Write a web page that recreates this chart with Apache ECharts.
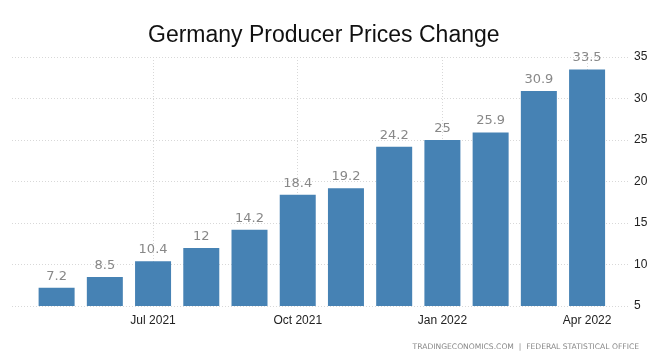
<!DOCTYPE html>
<html><head><meta charset="utf-8">
<script src="https://cdn.jsdelivr.net/npm/echarts@6/dist/echarts.min.js"></script>
<style>html,body{margin:0;padding:0;background:#fff}#c{width:660px;height:364px}</style>
</head><body><div id="c"></div>
<script>
var categories = ['May 2021','Jun 2021','Jul 2021','Aug 2021','Sep 2021','Oct 2021','Nov 2021','Dec 2021','Jan 2022','Feb 2022','Mar 2022','Apr 2022'];
var values = [7.2, 8.5, 10.4, 12, 14.2, 18.4, 19.2, 24.2, 25, 25.9, 30.9, 33.5];
var tickLabels = ['Jul 2021','Oct 2021','Jan 2022','Apr 2022'];
var yTicks = [5, 10, 15, 20, 25, 30, 35];

var tickIdx = tickLabels.map(function(t){ return categories.indexOf(t); });
var seriesData = values.map(function(v, i){ return [i, v]; });
var sans = '"Liberation Sans", Arial, sans-serif';

var chart = echarts.init(document.getElementById('c'));
chart.setOption({
  animation: false,
  title: {
    text: 'Germany Producer Prices Change',
    left: 143, top: 19,
    textStyle: { fontFamily: sans, fontSize: 23, fontWeight: 'normal', color: '#111' }
  },
  graphic: [{
    type: 'text', right: 21, top: 343,
    style: { text: 'TRADINGECONOMICS.COM  |  FEDERAL STATISTICAL OFFICE', fill: '#888', font: '7.6px "DejaVu Sans", sans-serif' }
  }],
  grid: { left: 12, right: 30, top: 57, bottom: 58 },
  xAxis: {
    type: 'value', min: -0.925, max: 11.89,
    axisLine: { show: false },
    axisTick: { show: false, customValues: tickIdx },
    axisLabel: {
      customValues: tickIdx, color: '#222', fontSize: 12, margin: 9,
      fontFamily: sans,
      formatter: function(v){ return categories[Math.round(v)]; }
    },
    splitLine: { show: true, lineStyle: { color: '#d8d8d8', type: [1, 2], width: 1 } }
  },
  yAxis: {
    type: 'value', position: 'right', min: yTicks[0], max: yTicks[yTicks.length - 1], interval: 5,
    axisLine: { show: false }, axisTick: { show: false },
    axisLabel: { color: '#222', fontSize: 12, margin: 4, fontFamily: sans },
    splitLine: { lineStyle: { color: '#d8d8d8', type: [1, 2], width: 1 } }
  },
  series: [{
    type: 'bar', data: seriesData, barWidth: 36,
    itemStyle: { color: '#4682b4' },
    label: { show: true, position: 'top', distance: 5, color: '#888', fontSize: 13,
      fontFamily: '"DejaVu Sans", sans-serif',
      formatter: function(p){ return String(p.value[1]); } }
  }]
});
</script></body></html>
